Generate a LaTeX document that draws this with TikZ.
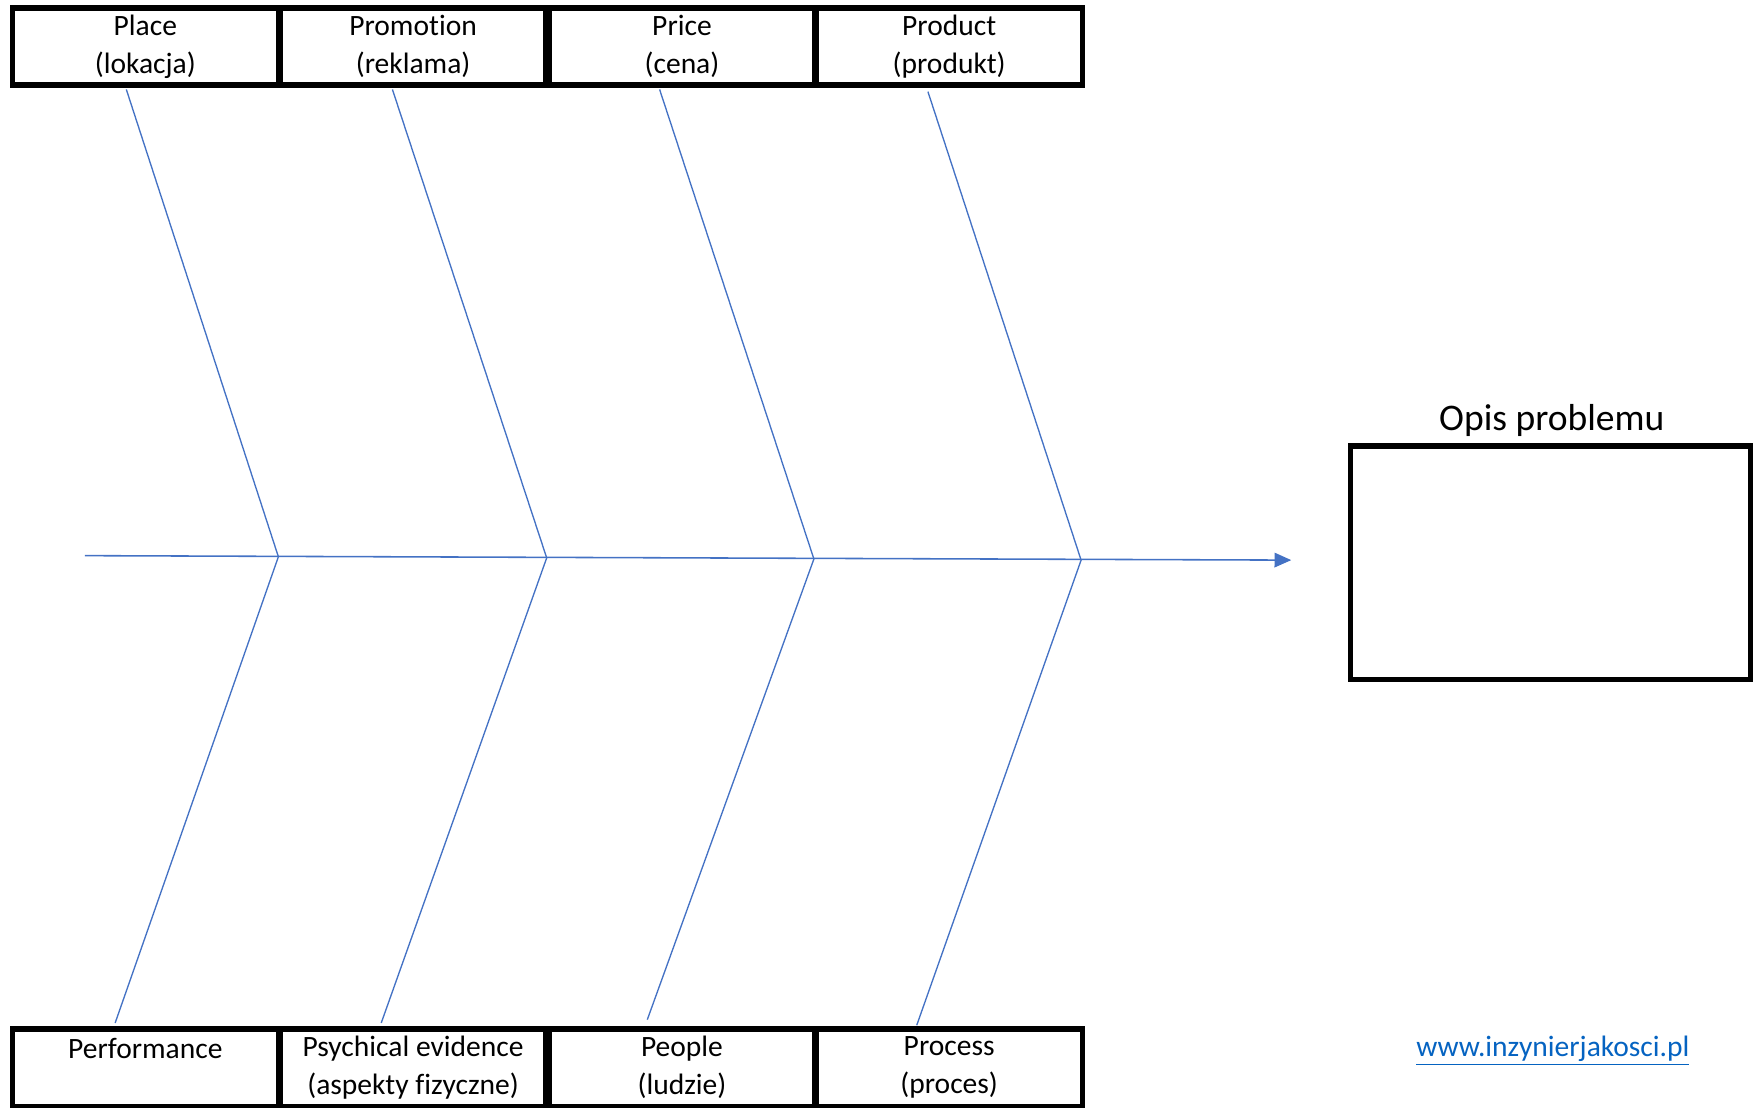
\documentclass[tikz,border=0pt]{standalone}
\usepackage{fontspec}
\setmainfont{Carlito}[Ligatures=NoCommon]
\usetikzlibrary{arrows.meta}
\definecolor{bonecol}{HTML}{4472C4}
\definecolor{linkcol}{HTML}{0563C1}
\begin{document}
\begin{tikzpicture}[x=0.5pt,y=-0.5pt,
  cell/.style={draw,line width=2.4pt,minimum width=119pt,minimum height=34.5pt,inner sep=0pt,align=center,font=\fontsize{13.2}{17}\selectfont},
  bone/.style={draw=bonecol,line width=0.6pt},
  spine/.style={draw=bonecol,line width=0.7pt,-{Triangle[length=7.5pt,width=6.5pt]}}]
\useasboundingbox (0,0) rectangle (1568,991);
% top cells
\node[cell] (place) at (130,41.5) {Place\\(lokacja)};
\node[cell] (promo) at (369.5,41.5) {Promotion\\(reklama)};
\node[cell] (price) at (610,41.5) {Price\\(cena)};
\node[cell] (prod)  at (849,41.5) {Product\\(produkt)};
% bottom cells
\node[cell,text depth=0pt] (perf)  at (130,955) {Performance\\\phantom{(p)}};
\node[cell] (psych) at (369.5,955) {Psychical evidence\\(aspekty fizyczne)};
\node[cell] (people) at (610,955) {People\\(ludzie)};
\node[cell] (proc)  at (849,955) {Process\\(proces)};
% problem box
\node[draw,line width=2.4pt,minimum width=179pt,minimum height=104.5pt,inner sep=0pt] (prob) at (1387,503.5) {};
\node[font=\fontsize{16.8}{19}\selectfont,inner sep=0pt] (title) at (1388,376) {Opis problemu};
\node[font=\fontsize{13.2}{16}\selectfont,text=linkcol,inner sep=0pt] (url) at (1389,940) {\underline{www.inzynierjakosci.pl}};
% spine
\coordinate (tail) at (76,497);
\coordinate (head) at (1155,501);
\coordinate (j1) at (249,498);
\coordinate (j2) at (489,499);
\coordinate (j3) at (728,500);
\coordinate (j4) at (967,501);
\coordinate (t1) at (113,80);
\coordinate (t2) at (351,80);
\coordinate (t3) at (590,80);
\coordinate (t4) at (830,82);
\coordinate (b1) at (103,915);
\coordinate (b2) at (341,915);
\coordinate (b3) at (579,912);
\coordinate (b4) at (820,917);
\draw[spine] (tail) -- (head);
\draw[bone] (t1) -- (j1) -- (b1);
\draw[bone] (t2) -- (j2) -- (b2);
\draw[bone] (t3) -- (j3) -- (b3);
\draw[bone] (t4) -- (j4) -- (b4);
\end{tikzpicture}
\end{document}
